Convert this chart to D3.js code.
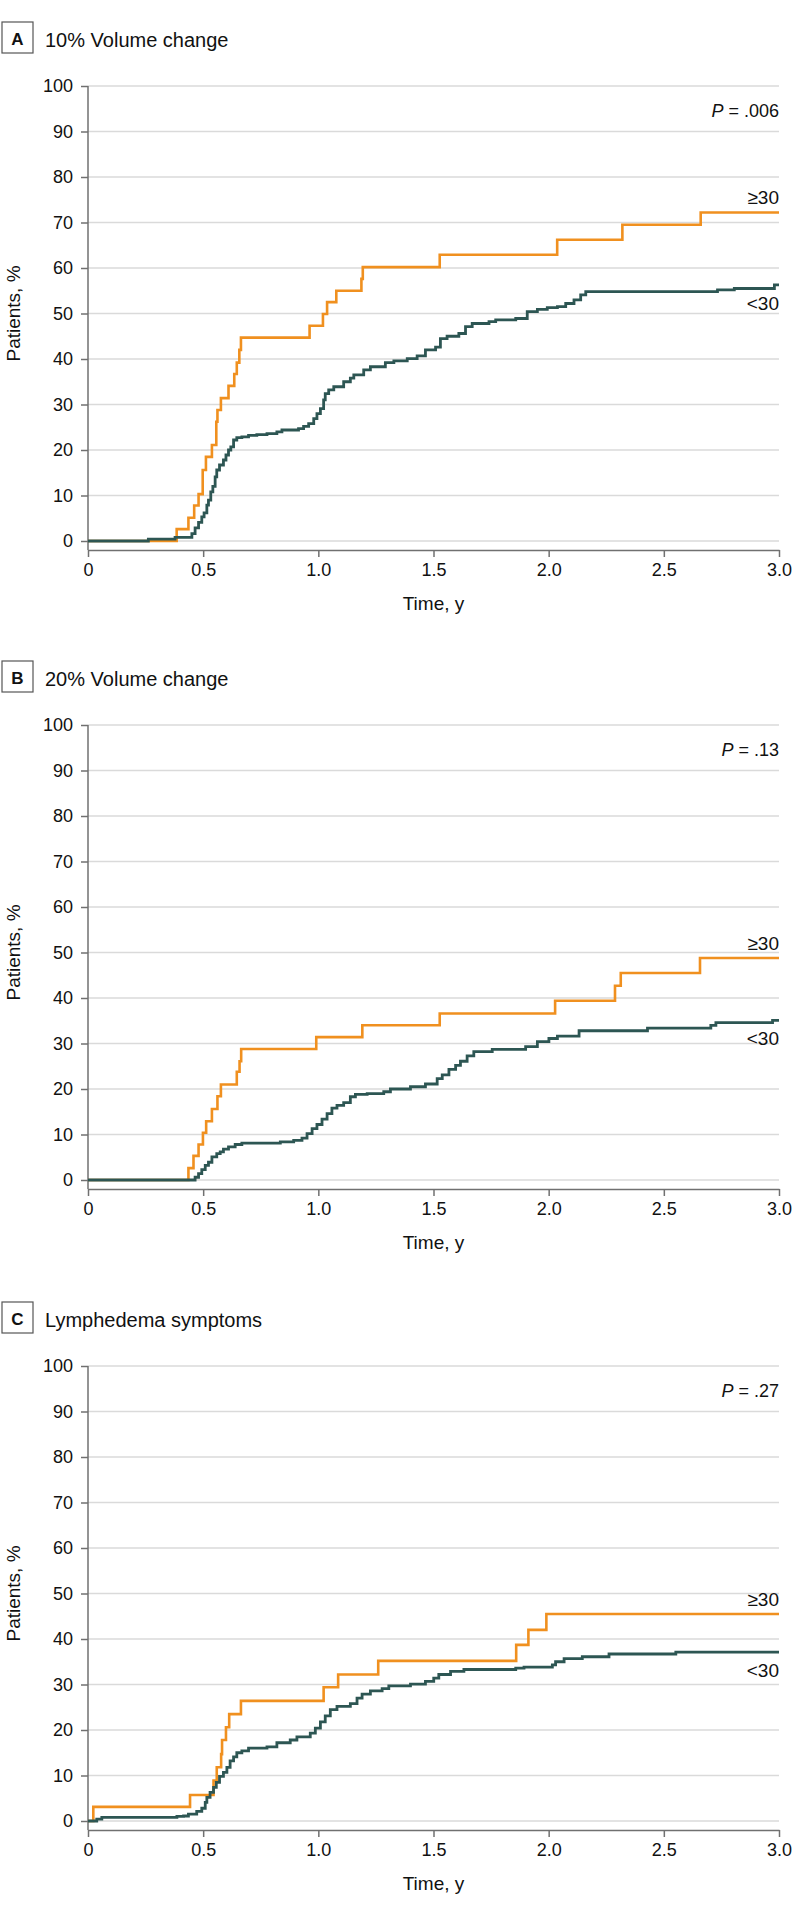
<!DOCTYPE html>
<html><head><meta charset="utf-8">
<script src="https://cdn.jsdelivr.net/npm/d3@7"></script>
<style>body{margin:0;background:#fff}</style>
</head><body><svg id="c" width="794" height="1909"></svg>
<script>
// ---- data ----
const panelLetters = ["A", "B", "C"];
const panelTitles = ["10% Volume change", "20% Volume change", "Lymphedema symptoms"];
const pValues = [".006", ".13", ".27"];
const groupLabels = ["\u226530", "<30"];
const xTicks = [0, 0.5, 1, 1.5, 2, 2.5, 3];
const xTickLabels = ["0", "0.5", "1.0", "1.5", "2.0", "2.5", "3.0"];
const yTicks = [0, 10, 20, 30, 40, 50, 60, 70, 80, 90, 100];
const xLabel = "Time, y";
const yLabel = "Patients, %";

// [time (y), cumulative %]
const orangeA = [[0,0],[0.385,2.6],[0.436,5.1],[0.461,7.8],[0.48,10.3],[0.498,15.6],[0.512,18.5],[0.538,21.1],[0.557,26.2],[0.562,28.8],[0.577,31.4],[0.61,34.1],[0.635,36.7],[0.646,39.2],[0.657,42],[0.664,44.7],[0.962,47.3],[1.02,49.9],[1.038,52.5],[1.078,55],[1.187,57.6],[1.193,60.2],[1.527,62.9],[2.037,66.2],[2.32,69.5],[2.66,72.2],[3.0,72.2]];
const greenA = [[0,0],[0.262,0.4],[0.378,0.8],[0.451,1.6],[0.465,2.9],[0.48,4.1],[0.494,5.3],[0.504,6.2],[0.516,7.9],[0.523,9],[0.533,10.8],[0.542,12],[0.552,14.1],[0.559,15.6],[0.571,16.7],[0.588,17.8],[0.599,18.9],[0.61,20],[0.62,20.7],[0.632,22.2],[0.646,22.7],[0.668,22.9],[0.697,23.2],[0.733,23.4],[0.777,23.6],[0.82,24],[0.842,24.4],[0.914,24.7],[0.936,25.2],[0.958,25.8],[0.98,26.9],[0.994,28],[1.009,29.1],[1.023,31],[1.03,32.4],[1.045,33.2],[1.067,33.9],[1.11,35],[1.139,35.8],[1.154,36.5],[1.197,37.6],[1.226,38.3],[1.291,39.2],[1.328,39.6],[1.386,40.1],[1.429,40.7],[1.465,42],[1.509,42.6],[1.53,44.5],[1.559,45],[1.61,45.6],[1.639,47.1],[1.668,47.8],[1.741,48.2],[1.77,48.6],[1.857,48.9],[1.907,50.4],[1.951,50.9],[1.994,51.3],[2.038,51.5],[2.074,52.2],[2.11,53],[2.139,54.1],[2.161,54.8],[2.733,55.2],[2.806,55.5],[2.98,56.3],[3.0,56.3]];
const orangeB = [[0,0],[0.436,2.6],[0.458,5.3],[0.48,7.8],[0.499,10.4],[0.513,12.9],[0.538,15.6],[0.562,18.4],[0.577,21],[0.646,23.8],[0.658,26.1],[0.665,28.8],[0.991,31.4],[1.191,34.0],[1.527,36.6],[2.028,39.4],[2.288,42.7],[2.313,45.5],[2.657,48.8],[3.0,48.8]];
const greenB = [[0,0],[0.465,0.6],[0.48,1.4],[0.494,2.3],[0.509,3.2],[0.523,3.9],[0.538,5.1],[0.559,5.8],[0.574,6.2],[0.588,6.8],[0.61,7.3],[0.639,7.8],[0.668,8.1],[0.835,8.4],[0.893,8.7],[0.929,9.2],[0.951,10.2],[0.973,11.3],[0.994,12.2],[1.016,13.4],[1.038,14.6],[1.059,15.8],[1.081,16.4],[1.11,17],[1.139,18.3],[1.161,18.8],[1.212,19],[1.284,19.4],[1.313,20],[1.4,20.5],[1.465,21.1],[1.516,22.3],[1.538,23.1],[1.567,24.3],[1.596,25.2],[1.617,26.1],[1.646,27.3],[1.675,28.2],[1.755,28.7],[1.9,29.3],[1.951,30.4],[2.001,31.1],[2.038,31.6],[2.132,32.8],[2.429,33.4],[2.704,34.0],[2.726,34.6],[2.972,35.1],[3.0,35.1]];
const orangeC = [[0,0],[0.023,3.1],[0.443,5.7],[0.545,8.9],[0.559,11.8],[0.578,14.7],[0.582,17.8],[0.599,20.6],[0.613,23.5],[0.664,26.4],[1.023,29.4],[1.086,32.2],[1.26,35.2],[1.859,38.7],[1.912,42.0],[1.99,45.5],[3.0,45.5]];
const greenC = [[0,0],[0.038,0.4],[0.06,0.8],[0.386,1.0],[0.415,1.1],[0.436,1.5],[0.472,2.1],[0.494,2.8],[0.509,4.1],[0.516,5.2],[0.53,6.3],[0.545,7.4],[0.557,8.5],[0.571,9.8],[0.588,10.7],[0.603,11.8],[0.617,13.2],[0.632,14.1],[0.646,15],[0.668,15.4],[0.697,16],[0.777,16.3],[0.82,17.2],[0.878,17.8],[0.907,18.5],[0.965,19.3],[0.987,20.4],[1.009,21.8],[1.03,23.1],[1.052,24.5],[1.081,25.2],[1.139,25.8],[1.168,27],[1.19,27.9],[1.226,28.6],[1.277,29.1],[1.306,29.7],[1.4,30.1],[1.465,30.7],[1.501,31.4],[1.523,32.2],[1.574,32.9],[1.632,33.3],[1.857,33.6],[1.893,33.8],[2.016,34.3],[2.03,35.0],[2.067,35.7],[2.146,36.1],[2.262,36.7],[2.552,37.1],[3.0,37.1]];

const orangeSeries = [orangeA, orangeB, orangeC];
const greenSeries = [greenA, greenB, greenC];

// ---- layout ----
const FONT = "'Liberation Sans', Arial, sans-serif";
const ORANGE = "#F0901F", GREEN = "#2D5653", GRID = "#dadada", AXIS = "#707070";
const panelTops = [86, 725, 1366];
const plotH = 455, x0 = 88, x1 = 779;

const svg = d3.select("#c").style("font-family", FONT);

panelLetters.forEach((letter, i) => {
  const top = panelTops[i];
  const g = svg.append("g");
  const x = d3.scaleLinear().domain([0, 3]).range([x0, x1]);
  const y = d3.scaleLinear().domain([0, 100]).range([top + plotH, top]);
  const xAxisY = top + plotH + 9;

  // header
  g.append("rect").attr("x", 2).attr("y", top - 64).attr("width", 31).attr("height", 31)
    .attr("fill", "none").attr("stroke", "#555").attr("stroke-width", 1.2);
  g.append("text").attr("x", 17.5).attr("y", top - 41.5).attr("text-anchor", "middle")
    .attr("font-size", 17).attr("font-weight", "bold").attr("fill", "#111").text(letter);
  g.append("text").attr("x", 45).attr("y", top - 39.5).attr("font-size", 20).attr("fill", "#111")
    .text(panelTitles[i]);

  // gridlines
  g.append("g").selectAll("line").data(yTicks).join("line")
    .attr("x1", x0).attr("x2", x1).attr("y1", d => y(d)).attr("y2", d => y(d))
    .attr("stroke", GRID).attr("stroke-width", 1.5);

  // y axis
  const ya = g.append("g").attr("transform", `translate(${x0},0)`)
    .call(d3.axisLeft(y).tickValues(yTicks).tickSize(7).tickPadding(8).tickSizeOuter(0));
  ya.select(".domain").remove();
  ya.append("line").attr("x1", 0).attr("x2", 0).attr("y1", y(100)).attr("y2", xAxisY).attr("stroke", AXIS).attr("stroke-width", 1.5);
  ya.selectAll(".tick line").attr("stroke", AXIS).attr("stroke-width", 1.5);
  ya.selectAll(".tick text").attr("font-size", 18).attr("fill", "#111").attr("font-family", FONT);

  // x axis
  const xa = g.append("g").attr("transform", `translate(0,${xAxisY})`)
    .call(d3.axisBottom(x).tickValues(xTicks).tickFormat((d, k) => xTickLabels[k]).tickSize(7).tickPadding(6).tickSizeOuter(0));
  xa.select(".domain").attr("stroke", AXIS).attr("stroke-width", 1.5);
  xa.selectAll(".tick line").attr("stroke", AXIS).attr("stroke-width", 1.5);
  xa.selectAll(".tick text").attr("font-size", 18).attr("fill", "#111").attr("font-family", FONT);

  g.append("text").attr("x", (x0 + x1) / 2).attr("y", xAxisY + 60).attr("text-anchor", "middle")
    .attr("font-size", 19).attr("fill", "#111").text(xLabel);
  g.append("text").attr("transform", `translate(20,${top + plotH / 2}) rotate(-90)`)
    .attr("text-anchor", "middle").attr("font-size", 19).attr("fill", "#111").text(yLabel);

  // curves
  const line = d3.line().x(d => x(d[0])).y(d => y(d[1])).curve(d3.curveStepAfter);
  g.append("path").datum(orangeSeries[i]).attr("d", line).attr("fill", "none")
    .attr("stroke", ORANGE).attr("stroke-width", 2.6);
  g.append("path").datum(greenSeries[i]).attr("d", line).attr("fill", "none")
    .attr("stroke", GREEN).attr("stroke-width", 2.8);

  // labels
  const pt = g.append("text").attr("x", x1).attr("y", top + 31).attr("text-anchor", "end")
    .attr("font-size", 18).attr("fill", "#111");
  pt.append("tspan").attr("font-style", "italic").text("P");
  pt.append("tspan").text(" = " + pValues[i]);

  const oEnd = orangeSeries[i][orangeSeries[i].length - 1][1];
  const gEnd = greenSeries[i][greenSeries[i].length - 1][1];
  g.append("text").attr("x", x1).attr("y", y(oEnd) - 8).attr("text-anchor", "end")
    .attr("font-size", 19).attr("fill", "#111").text(groupLabels[0]);
  g.append("text").attr("x", x1).attr("y", y(gEnd) + 25).attr("text-anchor", "end")
    .attr("font-size", 19).attr("fill", "#111").text(groupLabels[1]);
});
</script></body></html>
